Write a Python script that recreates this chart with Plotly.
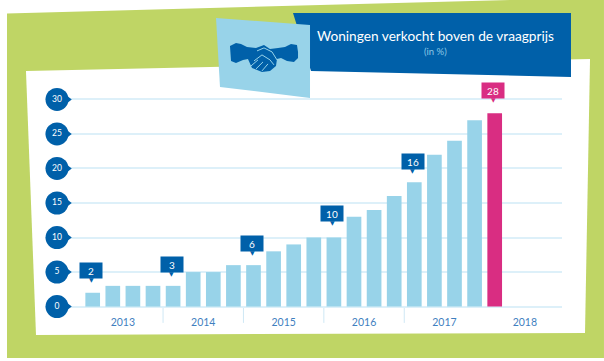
import plotly.graph_objects as go

W, H = 604, 361
# ---- data ----
periods = list(range(21))
values = [2, 3, 3, 3, 3, 5, 5, 6, 6, 8, 9, 10, 10, 13, 14, 16, 18, 22, 24, 27, 28]
y_ticks = [0, 5, 10, 15, 20, 25, 30]
year_labels = ["2013", "2014", "2015", "2016", "2017", "2018"]
year_centers = [1.5, 5.5, 9.5, 13.5, 17.5, 21.5]
year_breaks = [3.5, 7.5, 11.5, 15.5]
callout_index = [0, 4, 8, 12, 16, 20]
callout_text = ["2", "3", "6", "10", "16", "28"]
callout_lift = [22, 21, 22, 24, 21, 23]

BLUE = "#0060A9"; SKY = "#98D3E9"; PINK = "#D92D82"; GREEN = "#BFD565"; GRID = "#DDF0F9"
FONT = "Lato"

# plot area: left edge sits under the tick badges, y range padded so badges are not clipped
L, R, T, B = 45, 42, 87.1, 41.9
pw, ph = W - L - R, H - T - B
x_lo = (L - 92.7) / 20.1
x_hi = (W - R - 92.7) / 20.1

def page(x, y):
    return ((x - L) / pw, 1 - (y - T) / ph)

def pg_path(pts, close=True):
    s = "M" + " L".join("{:.4f},{:.4f}".format(*page(x, y)) for x, y in pts)
    return s + " Z" if close else s

def pg_poly(pts, color, layer="below"):
    return dict(type="path", xref="paper", yref="paper", path=pg_path(pts),
                fillcolor=color, line_width=0, layer=layer)

shapes = [
    pg_poly([(7, 13.5), (514, 0), (604, 0), (604, 358), (7, 358)], GREEN),
    pg_poly([(26, 71), (590, 59), (585, 333), (36, 335)], "#FFFFFF"),
]
for b in year_breaks:
    shapes.append(dict(type="line", xref="x", yref="paper", x0=b, x1=b,
                       y0=page(0, 307)[1], y1=page(0, 323)[1],
                       line=dict(color="#CFE8F5", width=1), layer="below"))
top = [
    pg_poly([(293, 13), (571, 13), (571, 77), (311, 71)], BLUE, "above"),
    pg_poly([(216, 18), (310, 25), (310, 98), (220, 87)], SKY, "above"),
    # handshake icon
    pg_poly([(230, 46), (236, 43), (241, 44), (247, 47), (256, 48), (264, 45), (270, 49),
             (278, 48), (285, 47), (291, 44), (297, 45), (298, 52), (298, 58), (294, 62),
             (287, 61), (281, 58), (277, 59), (276, 66), (270, 71), (262, 72), (252, 68),
             (248, 59), (243, 60), (236, 63), (231, 61)], BLUE, "above"),
]
for seg in [[(257, 51), (264, 48), (272, 52), (277, 60)], [(254, 61), (262, 55), (270, 60), (274, 65)],
            [(251, 66), (258, 60)], [(256, 69), (263, 62)], [(262, 71), (268, 64)]]:
    top.append(dict(type="path", xref="paper", yref="paper",
                    path=pg_path(seg, close=False), line=dict(color=SKY, width=1), layer="above"))

fig = go.Figure()
fig.add_bar(x=periods, y=values, width=0.73,
            marker=dict(color=[SKY] * 20 + [PINK], line_width=0), hoverinfo="skip")

# y tick badges: round marker with a small pointer, number as real text
badge_x = -1.776
fig.add_scatter(x=[badge_x + 0.56] * len(y_ticks), y=y_ticks, mode="markers",
                marker=dict(symbol="triangle-right", size=7, color=BLUE), hoverinfo="skip")
fig.add_scatter(x=[badge_x] * len(y_ticks), y=y_ticks, mode="markers+text",
                text=[str(v) for v in y_ticks], textposition="middle center",
                textfont=dict(color="white", size=8.5, family=FONT),
                marker=dict(size=23, color=BLUE), hoverinfo="skip")

annotations = []
for idx, txt, lift in zip(callout_index, callout_text, callout_lift):
    color = PINK if idx == 20 else BLUE
    annotations.append(dict(x=idx - 0.07, y=values[idx], xref="x", yref="y", text=txt, showarrow=False,
                            yshift=lift, width=22, height=15, bgcolor=color, borderpad=0,
                            font=dict(color="white", size=10, family=FONT)))
    annotations.append(dict(x=idx - 0.07, y=values[idx], xref="x", yref="y", text="\u25BC", showarrow=False,
                            yshift=lift - 9, font=dict(color=color, size=6, family="DejaVu Sans")))

tx, ty = page(435, 36)
annotations.append(dict(x=tx, y=ty, xref="paper", yref="paper", showarrow=False,
                        xanchor="center", yanchor="middle",
                        text="Woningen verkocht boven de vraagprijs",
                        font=dict(color="white", size=13.7, family=FONT)))
tx, ty = page(435, 52)
annotations.append(dict(x=tx, y=ty, xref="paper", yref="paper", showarrow=False,
                        xanchor="center", yanchor="middle", text="(in %)",
                        font=dict(color="#8CC8E6", size=9.5, family=FONT)))

fig.update_layout(
    width=W, height=H, autosize=False, showlegend=False,
    margin=dict(l=L, r=R, t=T, b=B, pad=0),
    paper_bgcolor="white", plot_bgcolor="rgba(0,0,0,0)",
    shapes=shapes + top, annotations=annotations,
    xaxis=dict(range=[x_lo, x_hi], tickmode="array", tickvals=year_centers, ticktext=year_labels,
               showgrid=False, zeroline=False, ticks="", showline=False, ticklabelstandoff=-5,
               tickfont=dict(color="#3F7FBF", size=10.5, family=FONT)),
    yaxis=dict(range=[-1.8, 31.8], tickmode="array", tickvals=y_ticks, showticklabels=False,
               showgrid=True, gridcolor=GRID, gridwidth=1.5, zeroline=False, showline=False),
)
fig.write_html("out.html", config={"displayModeBar": False},
               post_script="document.body.style.margin='0';")
